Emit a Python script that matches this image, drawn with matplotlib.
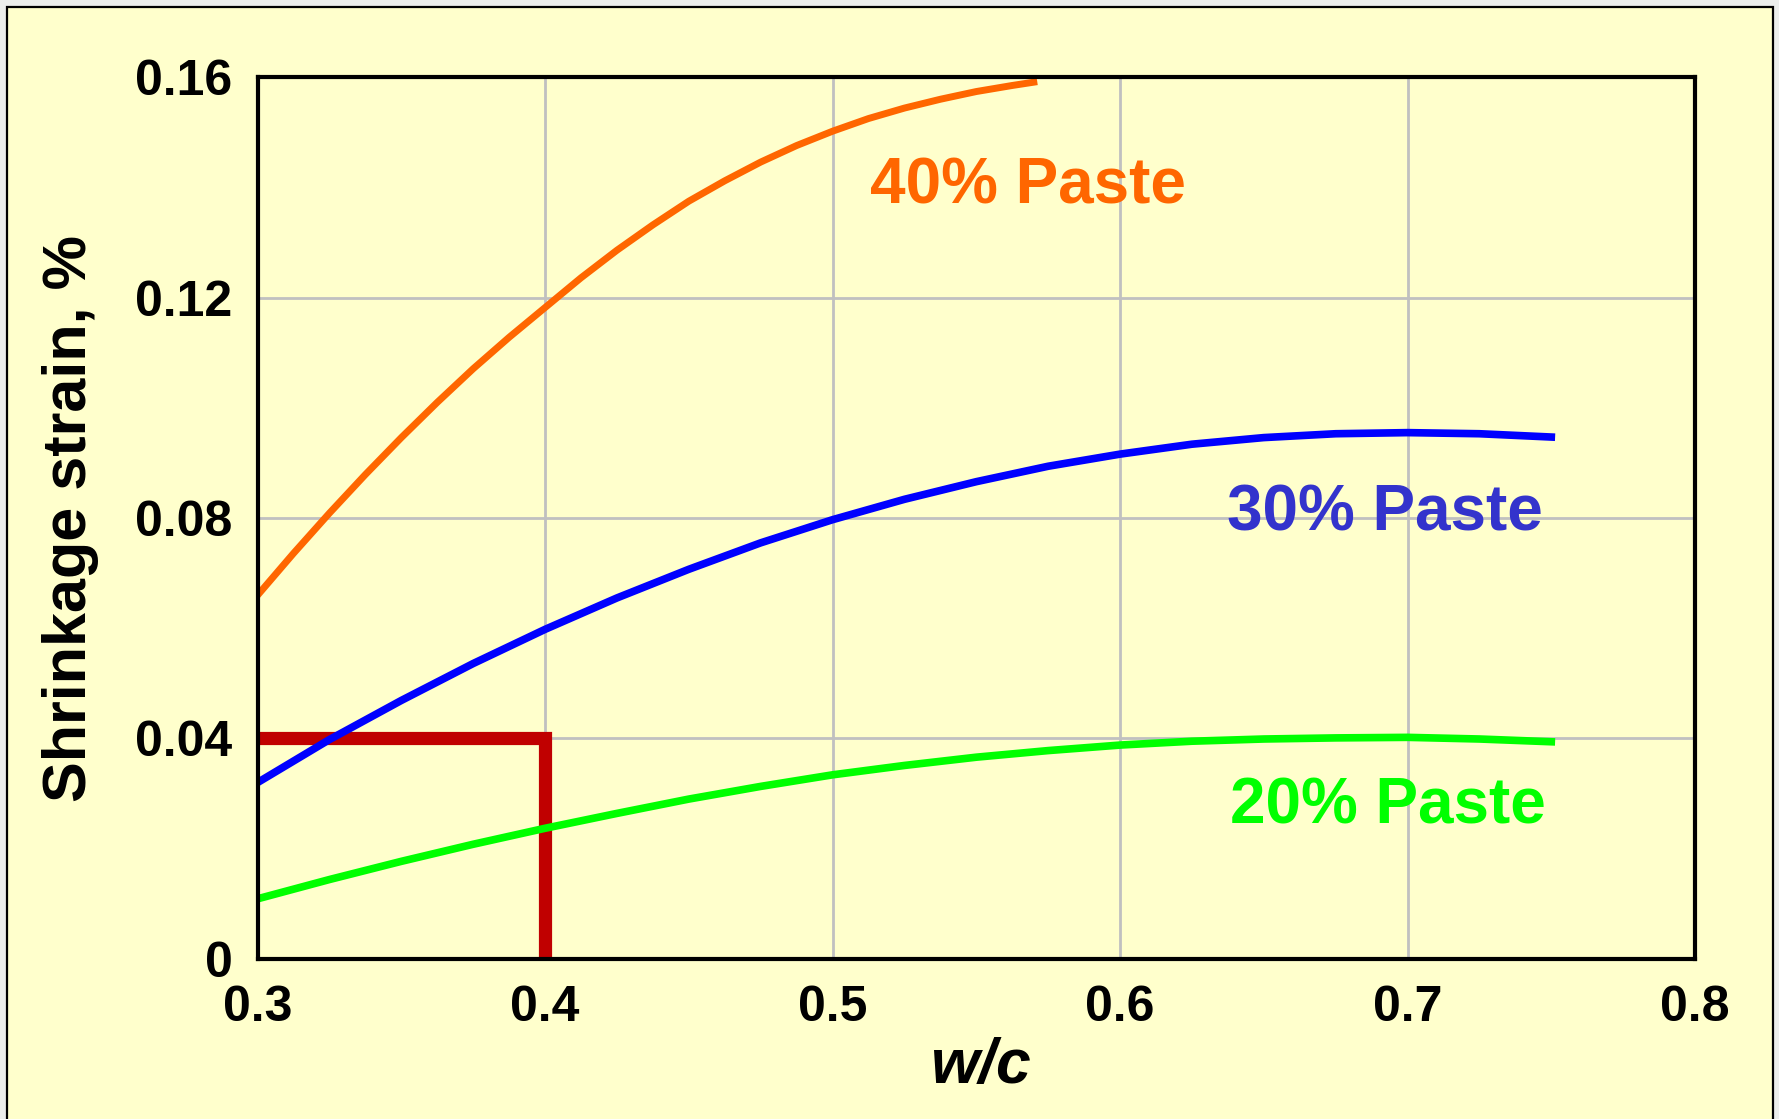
import matplotlib.pyplot as plt
from matplotlib.patches import Rectangle

# curves (w/c vs shrinkage strain, %)
orange_x = [0.30, 0.3125, 0.325, 0.3375, 0.35, 0.3625, 0.375, 0.3875, 0.40, 0.4125, 0.425, 0.4375,
            0.45, 0.4625, 0.475, 0.4875, 0.50, 0.5125, 0.525, 0.5375, 0.55, 0.5625, 0.57]
orange_y = [0.0660, 0.0736, 0.0809, 0.0879, 0.0946, 0.1010, 0.1071, 0.1128, 0.1182, 0.1236, 0.1286, 0.1332,
            0.1375, 0.1412, 0.1446, 0.1476, 0.1502, 0.1525, 0.1544, 0.1560, 0.1574, 0.1585, 0.1591]

blue_x = [0.30, 0.325, 0.35, 0.375, 0.40, 0.425, 0.45, 0.475, 0.50, 0.525, 0.55, 0.575,
          0.60, 0.625, 0.65, 0.675, 0.70, 0.725, 0.75]
blue_y = [0.0320, 0.0398, 0.0469, 0.0536, 0.0598, 0.0655, 0.0707, 0.0755, 0.0797, 0.0834, 0.0866, 0.0894,
          0.0916, 0.0934, 0.0946, 0.0953, 0.0955, 0.0953, 0.0947]

green_x = [0.30, 0.325, 0.35, 0.375, 0.40, 0.425, 0.45, 0.475, 0.50, 0.525, 0.55, 0.575,
           0.60, 0.625, 0.65, 0.675, 0.70, 0.725, 0.75]
green_y = [0.0109, 0.0144, 0.0177, 0.0208, 0.0237, 0.0264, 0.0290, 0.0313, 0.0334, 0.0351, 0.0366, 0.0378,
           0.0388, 0.0395, 0.0399, 0.0401, 0.0402, 0.0399, 0.0394]

red_x = [0.30, 0.40, 0.40]
red_y = [0.04, 0.04, 0.0]

labels = ['40% Paste', '30% Paste', '20% Paste']
label_x = [0.568, 0.692, 0.693]
label_y = [0.1370, 0.0778, 0.0246]
label_colors = ['#FF6600', '#3333CC', '#00FF00']

xticks = [0.3, 0.4, 0.5, 0.6, 0.7, 0.8]
xtick_labels = ['0.3', '0.4', '0.5', '0.6', '0.7', '0.8']
yticks = [0, 0.04, 0.08, 0.12, 0.16]
ytick_labels = ['0', '0.04', '0.08', '0.12', '0.16']

plt.rcParams['font.family'] = ['Liberation Sans', 'DejaVu Sans']

fig = plt.figure(figsize=(17.79, 11.19), dpi=100, facecolor='#eceeec')
# yellow slide panel behind the chart
fig.patches.append(Rectangle((7/1779, -0.02), 1766/1779, 1.02 - 7/1119,
                             transform=fig.transFigure, facecolor='#FFFFCC',
                             edgecolor='black', linewidth=1.6, zorder=-5))

ax = fig.add_axes([0.1448, 0.1431, 0.8080, 0.7879])
ax.set_facecolor('#FFFFCC')

ax.grid(True, color='#C0C0C0', linewidth=2, zorder=0)
ax.plot(red_x, red_y, color='#C00000', linewidth=9.5, solid_capstyle='butt',
        solid_joinstyle='miter', zorder=2)
ax.plot(orange_x, orange_y, color='#FF6600', linewidth=5, zorder=3)
ax.plot(blue_x, blue_y, color='#0000FF', linewidth=5.5, zorder=3)
ax.plot(green_x, green_y, color='#00FF00', linewidth=5.5, zorder=3)

for t, x, y, c in zip(labels, label_x, label_y, label_colors):
    ax.text(x, y, t, color=c, fontsize=46, fontweight='bold', ha='center', va='baseline')

ax.set_xlim(0.3, 0.8)
ax.set_ylim(0, 0.16)
ax.set_xticks(xticks)
ax.set_xticklabels(xtick_labels)
ax.set_yticks(yticks)
ax.set_yticklabels(ytick_labels)
ax.tick_params(axis='both', length=0, labelsize=36)
ax.tick_params(axis='x', pad=19)
ax.tick_params(axis='y', pad=18)
for lab in ax.get_xticklabels() + ax.get_yticklabels():
    lab.set_fontweight('bold')

for s in ax.spines.values():
    s.set_linewidth(3)
    s.set_zorder(5)

ax.set_xlabel('w/c', fontsize=45, fontweight='bold', fontstyle='italic', va='center')
ax.xaxis.set_label_coords(0.5036, -0.1224)
ax.set_ylabel('Shrinkage strain, %', fontsize=44, fontweight='bold', va='center')
ax.yaxis.set_label_coords(-0.130, 0.5)

fig.savefig('out.png', dpi=100, facecolor=fig.get_facecolor())
